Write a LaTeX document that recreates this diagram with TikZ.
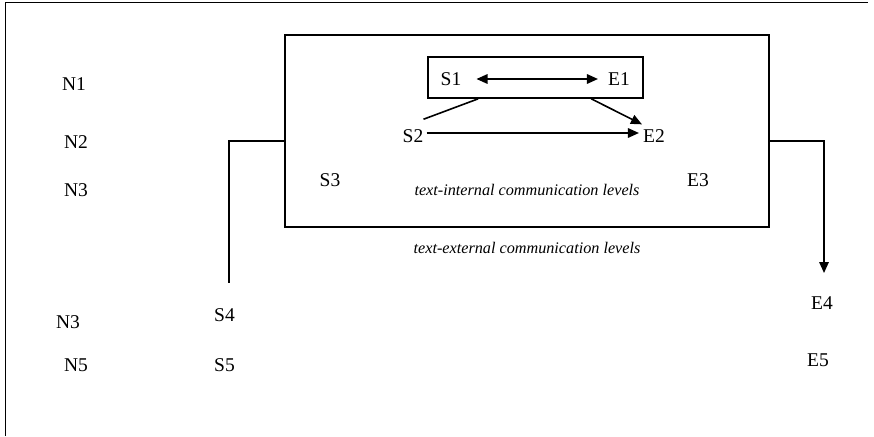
\documentclass[tikz,border=0pt]{standalone}
\usepackage{fontspec}
\setmainfont{Liberation Serif}
\usetikzlibrary{arrows.meta,calc}
\begin{document}
\begin{tikzpicture}[x=1pt,y=-1pt,
  lbl/.style={inner sep=0pt,font=\fontsize{19.5}{22}\selectfont},
  ital/.style={inner sep=0pt,font=\fontsize{16.2}{19}\selectfont\itshape},
  ln/.style={line width=1.6pt},
  arr/.style={line width=1.6pt,-{Triangle[length=11pt,width=9.5pt]}},
  darr/.style={line width=1.6pt,{Triangle[length=11pt,width=9.5pt]}-{Triangle[length=11pt,width=9.5pt]}}]
\useasboundingbox (0,0) rectangle (874,436);
% frame (top and left)
\draw[ln] (5.5,436) -- (5.5,2.5) -- (868,2.5);
% boxes
\node[draw,ln,minimum width=484pt,minimum height=192pt,inner sep=0pt] (outer) at (527,131) {};
\node[draw,ln,minimum width=215pt,minimum height=41pt,inner sep=0pt] (inner) at (535.5,77.5) {};
% labels
\node[lbl] (n1) at (74,84) {N1};
\node[lbl] (n2) at (76,142) {N2};
\node[lbl] (n3) at (76,190) {N3};
\node[lbl] (n3b) at (68,322) {N3};
\node[lbl] (n5) at (76,365) {N5};
\node[lbl] (s1) at (451,79) {S1};
\node[lbl] (e1) at (619,79) {E1};
\node[lbl] (s2) at (413,136) {S2};
\node[lbl] (e2) at (654,136) {E2};
\node[lbl] (s3) at (330,180) {S3};
\node[lbl] (e3) at (698,180) {E3};
\node[lbl] (s4) at (224.5,315) {S4};
\node[lbl] (s5) at (224.5,365) {S5};
\node[lbl] (e4) at (822,303) {E4};
\node[lbl] (e5) at (818,360) {E5};
\node[ital] (tint) at (527,190) {text-internal communication levels};
\node[ital] (text) at (527,248) {text-external communication levels};
% inner connectors
\draw[darr] ([xshift=15pt]s1.east) -- ([xshift=-10pt]e1.west);
\draw[arr] ([xshift=3pt,yshift=3pt]s2.east) -- ([xshift=-4pt,yshift=3pt]e2.west);
\draw[ln] ($(inner.south west)+(51,0)$) -- ([yshift=10pt]s2.north east);
\draw[arr] ($(inner.south west)+(164,0)$) -- ([xshift=-1pt,yshift=5pt]e2.north west);
% outer connectors
\coordinate (ljoin) at ($(outer.north west)+(0,107)$);
\coordinate (s4top) at (229,283);
\draw[ln] (ljoin) -| (s4top);
\coordinate (rjoin) at ($(outer.north east)+(0,107)$);
\coordinate (e4top) at (824,273);
\draw[arr] (rjoin) -| (e4top);
\end{tikzpicture}
\end{document}
